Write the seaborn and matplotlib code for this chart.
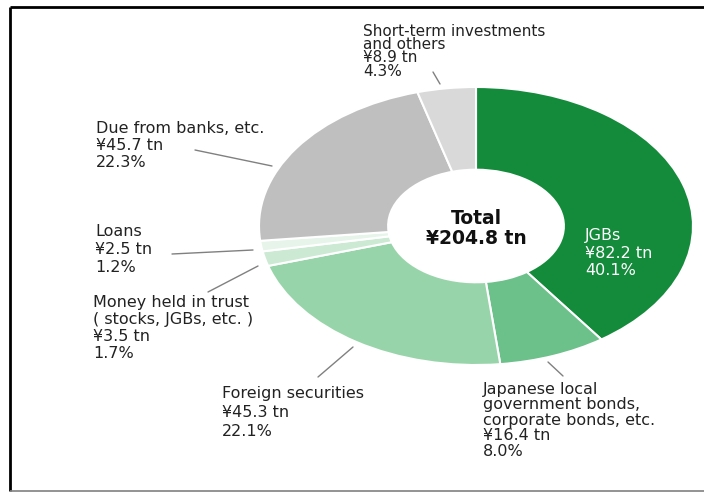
import matplotlib
matplotlib.use("Agg")
import matplotlib.pyplot as plt
import seaborn as sns

# Asset breakdown (trillion yen)
categories = ["JGBs",
              "Japanese local\ngovernment bonds,\ncorporate bonds, etc.",
              "Foreign securities",
              "Money held in trust\n( stocks, JGBs, etc. )",
              "Loans",
              "Due from banks, etc.",
              "Short-term investments\nand others"]
values = [82.2, 16.4, 45.3, 3.5, 2.5, 45.7, 8.9]
shares = ["40.1%", "8.0%", "22.1%", "1.7%", "1.2%", "22.3%", "4.3%"]
total_label = "¥204.8 tn"
colors = ["#138b3b", "#6cc08a", "#98d4a9", "#cce9d4", "#e6f4ea", "#bfbfbf", "#d9d9d9"]

sns.set_style("white")
plt.rcParams["font.family"] = ["DejaVu Sans", "Noto Sans CJK JP"]

fig = plt.figure(figsize=(7.04, 4.92), dpi=100)
ax = fig.add_axes([0, 0, 1, 1])

# donut is drawn as an ellipse: centre and pixel scale per unit radius
cx, cy, sx, sy = 476, 226, 217, 139


def px(x, y):
    return (x - cx) / sx, (cy - y) / sy


ax.pie(values, colors=colors, startangle=90, counterclock=False, radius=1,
       wedgeprops=dict(width=0.595, edgecolor="white", linewidth=1.5))
ax.set_aspect("auto")
ax.set_xlim(px(0, 0)[0], px(704, 0)[0])
ax.set_ylim(px(0, 492)[1], px(0, 0)[1])
ax.axis("off")

# label placement: left x, first baseline and line step, all in pixels
label_x = [585, 483, 222, 93, 95, 96, 363]
label_y = [240, 394, 398, 307, 236, 133, 36]
label_step = [17.5, 15.5, 19, 17, 18, 17, 13.2]
label_fs = [11.5, 11.5, 11.5, 11.5, 11.5, 11.5, 11]
leaders = [None,
           ((548, 362), (563, 376)),
           ((318, 377), (353, 347)),
           ((208, 292), (258, 266)),
           ((172, 254), (253, 250)),
           ((195, 150), (272, 166)),
           ((433, 72), (440, 84))]

for i, name in enumerate(categories):
    lines = name.split("\n") + ["¥%.1f tn" % values[i], shares[i]]
    col = "white" if i == 0 else "#222222"
    for k, line in enumerate(lines):
        ax.text(*px(label_x[i], label_y[i] + k * label_step[i]), line,
                fontsize=label_fs[i], color=col, ha="left", va="baseline")
    if leaders[i]:
        (x0, y0), (x1, y1) = leaders[i]
        a, b = px(x0, y0), px(x1, y1)
        ax.plot([a[0], b[0]], [a[1], b[1]], color="#808080", lw=1)

ax.text(*px(cx, 224), "Total", fontsize=13.5, fontweight="bold",
        ha="center", va="baseline", color="#111111")
ax.text(*px(cx, 244), total_label, fontsize=13.5, fontweight="bold",
        ha="center", va="baseline", color="#111111")

# frame around the chart
for (x0, y0), (x1, y1), c, w in [((10, 7), (704, 7), "black", 2),
                                 ((10, 7), (10, 491), "black", 2),
                                 ((10, 491), (704, 491), "#808080", 1.2)]:
    a, b = px(x0, y0), px(x1, y1)
    ax.plot([a[0], b[0]], [a[1], b[1]], color=c, lw=w, clip_on=False,
            solid_capstyle="butt")

fig.savefig("out.png", dpi=100)
